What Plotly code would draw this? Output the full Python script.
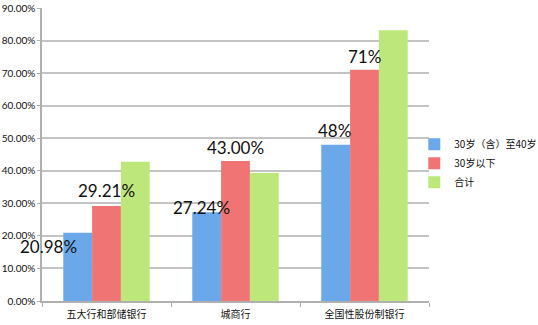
import plotly.graph_objects as go

categories = ["五大行和部储银行", "城商行", "全国性股份制银行"]
series_names = ["30岁（含）至40岁", "30岁以下", "合计"]
age_30_40 = [20.98, 27.24, 48.0]
under_30 = [29.21, 43.00, 71.0]
total = [42.8, 39.3, 83.2]
colors = ["#6aa8ea", "#f07474", "#bde77a"]

label_texts = ["20.98%", "29.21%", "27.24%", "43.00%", "48%", "71%"]
label_series = [0, 1, 0, 1, 0, 1]
label_cats = [0, 0, 1, 1, 2, 2]
label_xshift = [-58, 0, -34, 0, -30, 0]
label_yshift = [-14, 15, 5, 14, 14, 13]

values = [age_30_40, under_30, total]

fig = go.Figure()
for name, vals, c in zip(series_names, values, colors):
    fig.add_trace(go.Bar(x=categories, y=vals, name=name,
                         marker=dict(color=c, line=dict(width=0))))

for t, s, ci, xs, ys in zip(label_texts, label_series, label_cats, label_xshift, label_yshift):
    fig.add_annotation(x=categories[ci], y=values[s][ci], text=t, showarrow=False,
                       xshift=xs, yshift=ys,
                       font=dict(family="Lato, Open Sans, sans-serif", size=17, color="#111"))

fig.update_layout(
    width=538, height=325,
    margin=dict(l=42, r=109, t=8, b=24, autoexpand=False),
    paper_bgcolor="white", plot_bgcolor="white",
    barmode="group", bargap=0.33, bargroupgap=0,
    font=dict(family="Lato, Noto Sans CJK SC, sans-serif", size=10, color="#111"),
    legend=dict(x=0.962, y=0.47, xanchor="left", yanchor="middle",
                font=dict(size=10, family="Noto Sans CJK SC, sans-serif"),
                itemwidth=30, tracegroupgap=2, bgcolor="rgba(0,0,0,0)"),
    showlegend=True,
)
fig.update_yaxes(range=[0, 90], dtick=10, tickformat=".2f", ticksuffix="%",
                 automargin=False,
                 showgrid=True, gridcolor="#c4c4c4", gridwidth=1.5,
                 showline=True, linecolor="#b0b0b0", linewidth=1.5,
                 ticks="outside", ticklen=3, tickcolor="#b0b0b0",
                 zeroline=False, tickfont=dict(size=10, family="Lato, sans-serif"))
fig.update_xaxes(range=[-0.5, 2.5], autorange=False,
                 showline=True, linecolor="#b0b0b0", linewidth=1.5, automargin=False,
                 ticks="outside", tickson="boundaries", ticklen=4, tickcolor="#b0b0b0",
                 ticklabelstandoff=3,
                 tickfont=dict(size=10, family="Noto Sans CJK SC, sans-serif"))

fig.write_html("out.html")
